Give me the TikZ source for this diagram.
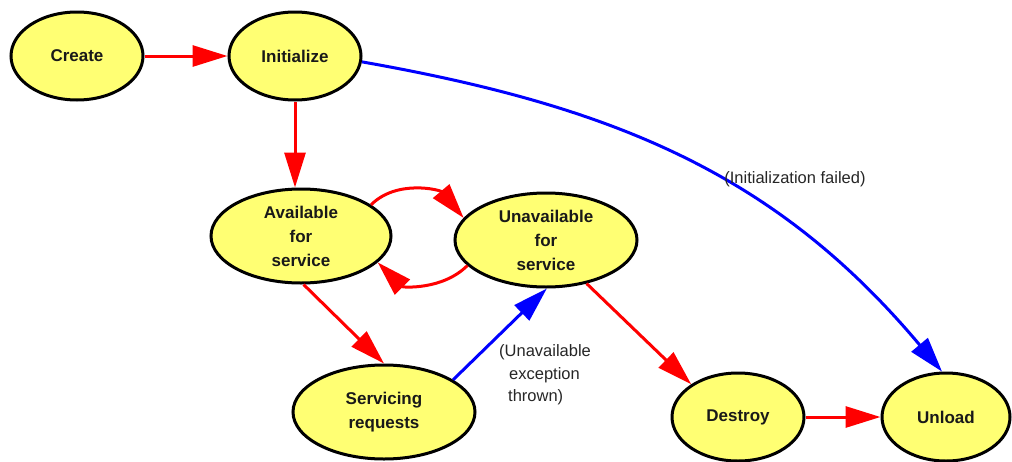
\documentclass[tikz,border=0pt]{standalone}
\usepackage{fontspec}
\setmainfont{Liberation Sans}
\usetikzlibrary{shapes.geometric,arrows.meta}
\definecolor{statefill}{RGB}{255,255,115}
\definecolor{flowred}{RGB}{255,0,0}
\definecolor{flowblue}{RGB}{0,0,255}
\tikzset{
  state/.style={ellipse, draw=black, line width=3pt, fill=statefill, inner sep=0pt,
    align=center, text=black!90, font=\fontsize{17}{24}\selectfont\bfseries},
  okflow/.style={line width=3pt, draw=flowred,
    -{Triangle[length=35pt,width=21pt,fill=flowred]}},
  failflow/.style={line width=3pt, draw=flowblue,
    -{Triangle[length=35pt,width=21pt,fill=flowblue]}},
  note/.style={text=black!85, font=\fontsize{16.5}{22.5}\selectfont}
}
\begin{document}
\begin{tikzpicture}[x=1pt, y=-1pt]
\useasboundingbox (0,0) rectangle (1012,461);

% states
\node[state, minimum width=132pt, minimum height=88pt] (create) at (77,56) {Create};
\node[state, minimum width=132pt, minimum height=88pt] (init) at (295,56) {Initialize};
\node[state, minimum width=180pt, minimum height=94pt] (avail) at (301,236) {Available\\for\\service};
\node[state, minimum width=182pt, minimum height=94pt] (unavail) at (546,240) {Unavailable\\for\\service};
\node[state, minimum width=182pt, minimum height=94pt] (serv) at (384,412) {Servicing\\requests};
\node[state, minimum width=132pt, minimum height=88pt] (destroy) at (738,417) {Destroy};
\node[state, minimum width=128pt, minimum height=88pt] (unload) at (946,417) {Unload};

% transitions
\draw[okflow] (create.east) -- (init.west);
\draw[okflow] (init.south) -- (avail.north -| init.south);
\draw[okflow] (avail.24) to[out=45, in=130] (unavail.165);
\draw[okflow] (unavail.198) to[out=-135, in=-45] (avail.-19);
\draw[okflow] (avail.-87) -- (serv.90);
\draw[failflow] (serv.25) -- (unavail.-89);
\draw[okflow] (unavail.-47) -- (destroy.145);
\draw[okflow] (destroy.east) -- (unload.west);
\draw[failflow] (init.-5) to[out=-10, in=130] (unload.95);

% labels
\node[note, align=center] (initfail) at (795,179) {(Initialization failed)};
\node[note, align=left, anchor=west, inner sep=0pt] (unavex) at (499,375)
  {(Unavailable\\\hspace*{10pt}exception\\\hspace*{9pt}thrown)};
\end{tikzpicture}
\end{document}
